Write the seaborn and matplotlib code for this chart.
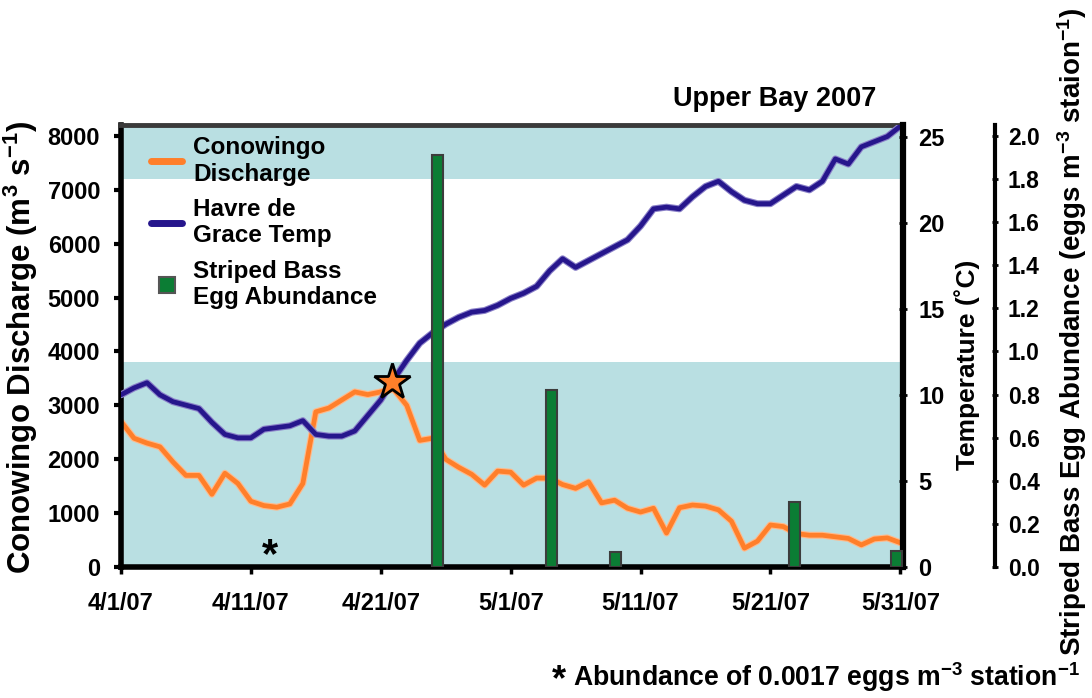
import numpy as np
import pandas as pd
import seaborn as sns
import matplotlib.pyplot as plt
import matplotlib.dates as mdates
import matplotlib.patheffects as pe
from matplotlib.lines import Line2D

# daily series, 4/1/07 .. 5/31/07
dates = pd.date_range("2007-04-01", "2007-05-31", freq="D")
discharge = [
    2700, 2390, 2300, 2230, 1950, 1700, 1700, 1350, 1740, 1550,
    1220, 1140, 1110, 1170, 1550, 2880, 2950, 3100, 3250, 3200,
    3250, 3300, 3000, 2350, 2390, 2000, 1850, 1720, 1520, 1780,
    1760, 1520, 1650, 1650, 1530, 1460, 1580, 1190, 1240, 1090,
    1020, 1090, 630, 1100, 1150, 1130, 1060, 850, 350, 480,
    780, 750, 620, 590, 590, 560, 530, 410, 520, 540,
    450,
]
temperature = [
    10.0, 10.4, 10.7, 10.0, 9.6, 9.4, 9.2, 8.4, 7.7, 7.5,
    7.5, 8.0, 8.1, 8.2, 8.5, 7.7, 7.6, 7.6, 7.9, 8.8,
    9.7, 10.9, 12.0, 13.0, 13.6, 14.1, 14.5, 14.8, 14.9, 15.2,
    15.6, 15.9, 16.3, 17.2, 17.9, 17.4, 17.8, 18.2, 18.6, 19.0,
    19.8, 20.8, 20.9, 20.8, 21.5, 22.1, 22.4, 21.8, 21.3, 21.1,
    21.1, 21.6, 22.1, 21.9, 22.4, 23.7, 23.4, 24.4, 24.7, 25.0,
    25.6,
]

egg_dates = pd.to_datetime([
    "2007-04-25 08:00", "2007-05-04 03:00", "2007-05-09 02:00",
    "2007-05-22 20:00", "2007-05-30 17:00",
])
egg_abundance = [1.91, 0.82, 0.07, 0.30, 0.075]

tick_dates = pd.to_datetime([
    "2007-04-01", "2007-04-11", "2007-04-21", "2007-05-01",
    "2007-05-11", "2007-05-21", "2007-05-31",
])
tick_labels = ["4/1/07", "4/11/07", "4/21/07", "5/1/07", "5/11/07", "5/21/07", "5/31/07"]

discharge_ticks = [0, 1000, 2000, 3000, 4000, 5000, 6000, 7000, 8000]
temp_ticks = [0, 5, 10, 15, 20, 25]
egg_ticks = [0.0, 0.2, 0.4, 0.6, 0.8, 1.0, 1.2, 1.4, 1.6, 1.8, 2.0]

# shaded discharge bands
bands = [(0, 3800), (7200, 8300)]

star_date = pd.Timestamp("2007-04-21 20:00")
star_discharge = 3440
asterisk_date = pd.Timestamp("2007-04-12 12:00")
asterisk_level = 200

ORANGE = "#ff7f2a"
NAVY = "#26168c"
GREEN = "#0b7d34"
BAND = "#b9dfe2"

sns.set_theme(style="white")
plt.rcParams["font.family"] = ["Liberation Sans", "DejaVu Sans"]
plt.rcParams["font.weight"] = "bold"
plt.rcParams["axes.labelweight"] = "bold"
plt.rcParams["mathtext.default"] = "regular"
for key in ["text.color", "axes.labelcolor", "xtick.color", "ytick.color", "axes.edgecolor"]:
    plt.rcParams[key] = "black"

x = mdates.date2num(dates)
x_egg = mdates.date2num(egg_dates)
x_ticks = mdates.date2num(tick_dates)

fig = plt.figure(figsize=(10.92, 6.98), dpi=100)
ax = fig.add_axes([121 / 1092, 1 - 567 / 698, 782 / 1092, 442 / 698])
ax_t = ax.twinx()
ax_e = ax.twinx()

for lo, hi in bands:
    ax.axhspan(lo, hi, color=BAND, lw=0, zorder=0)

sns.lineplot(x=x, y=discharge, ax=ax, color=ORANGE, lw=3.4, legend=False,
             path_effects=[pe.Stroke(linewidth=5, foreground="#ffb98a"), pe.Normal()])
sns.lineplot(x=x, y=temperature, ax=ax_t, color=NAVY, lw=3.4, legend=False,
             path_effects=[pe.Stroke(linewidth=5, foreground="#8a80c8"), pe.Normal()])

ax_e.bar(x_egg, egg_abundance, width=0.85, color=GREEN, edgecolor="#3c3c3c", linewidth=1.5, zorder=3)
ax_e.plot(mdates.date2num(star_date), star_discharge, marker="*", ms=27, mfc=ORANGE,
          mec="black", mew=2, transform=ax.transData, zorder=5)
ax.text(mdates.date2num(asterisk_date), asterisk_level, "*", fontsize=30,
        ha="center", va="center", fontweight="bold")

xmin = mdates.date2num(pd.Timestamp("2007-04-01"))
xmax = mdates.date2num(pd.Timestamp("2007-05-31 05:00"))
ax.set_xlim(xmin, xmax)
ax.set_xticks(x_ticks)
ax.set_xticklabels(tick_labels)
ax.set_ylim(0, 8204)
ax.set_yticks(discharge_ticks)
ax_t.set_ylim(0, 25.67)
ax_t.set_yticks(temp_ticks)
ax_e.set_ylim(0, 2.05)
ax_e.set_yticks(egg_ticks)
ax_e.set_yticklabels([f"{v:.1f}" for v in egg_ticks])

ax.set_ylabel("Conowingo Discharge (m$^3$ s$^{-1}$)", fontsize=22.5)
ax.yaxis.set_label_coords(-0.104, 0.496)
ax_t.set_ylabel("Temperature (˚C)", fontsize=19)
ax_t.yaxis.set_label_coords(1.066, 0.457)
ax_e.set_ylabel("Striped Bass Egg Abundance (eggs m$^{-3}$ staion$^{-1}$)", fontsize=20)
ax_e.yaxis.set_label_coords(1.195, 0.532)
ax.set_xlabel("")

ax.tick_params(axis="x", direction="out", length=5, width=2.5, pad=13, labelsize=17, bottom=True)
ax.tick_params(axis="y", direction="out", length=5, width=3, pad=10, labelsize=17, left=True)
ax_t.tick_params(axis="y", direction="inout", length=6, width=2, pad=8, labelsize=17, right=True)
ax_e.tick_params(axis="y", direction="inout", length=5, width=2, pad=7, labelsize=16.5, right=True)
for lab in ax.get_xticklabels() + ax.get_yticklabels() + ax_t.get_yticklabels() + ax_e.get_yticklabels():
    lab.set_fontweight("bold")

ax.spines["left"].set_linewidth(4)
ax.spines["bottom"].set_linewidth(4)
ax.spines["top"].set_linewidth(3.5)
ax.spines["top"].set_color("#3a3a3a")
ax.spines["right"].set_visible(False)
for s in ["left", "top", "bottom"]:
    ax_t.spines[s].set_visible(False)
    ax_e.spines[s].set_visible(False)
ax_t.spines["right"].set_linewidth(4.5)
ax_e.spines["right"].set_position(("outward", 66))
ax_e.spines["right"].set_linewidth(3)

handles = [
    Line2D([], [], color=ORANGE, lw=5),
    Line2D([], [], color=NAVY, lw=5),
    Line2D([], [], ls="none", marker="s", ms=12, mfc=GREEN, mec="#555555", mew=1.5),
]
labels = ["Conowingo\nDischarge", "Havre de\nGrace Temp", "Striped Bass\nEgg Abundance"]
ax_e.legend(handles, labels, loc="upper left", bbox_to_anchor=(0.038, 0.975),
            frameon=False, fontsize=17.5, handlelength=1.3, handletextpad=0.45,
            labelspacing=0.5, borderpad=0, borderaxespad=0)

fig.text(876 / 1092, 1 - 106 / 698, "Upper Bay 2007", ha="right", va="baseline",
         fontsize=19.5, fontweight="bold")
fig.text(566 / 1092, 1 - 690 / 698, "*", ha="right", va="baseline", fontsize=26, fontweight="bold")
fig.text(1080 / 1092, 1 - 686 / 698, "Abundance of 0.0017 eggs m$^{-3}$ station$^{-1}$",
         ha="right", va="baseline", fontsize=19.2, fontweight="bold")

fig.savefig("out.png", dpi=100)
